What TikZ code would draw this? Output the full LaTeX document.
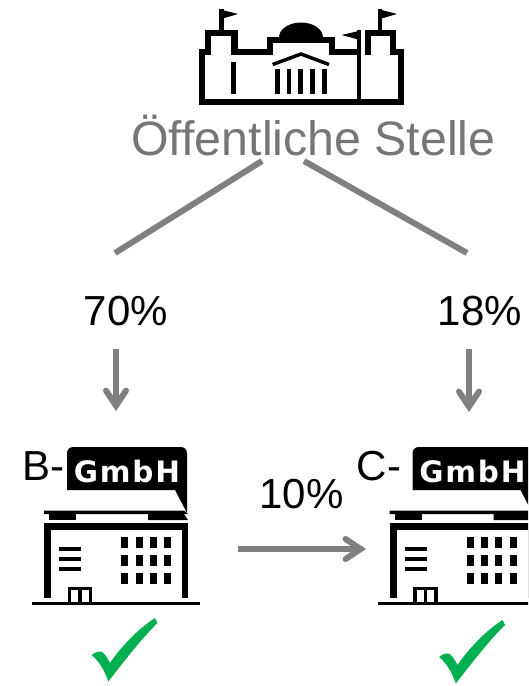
\documentclass[tikz,border=0pt]{standalone}
\usepackage{fontspec}
\usepackage{tikz}
\usetikzlibrary{arrows.meta}
\setmainfont{Liberation Sans}
\newfontfamily\tagfont[LetterSpace=6]{DejaVu Sans}

\tikzset{
  every node/.style={inner sep=0pt},
  grayline/.style={draw=linegray, line width=6pt},
  grayarrow/.style={grayline, -{Straight Barb[length=15pt,width=20pt,line cap=round,line join=miter]}},
  bigtext/.style={font=\fontsize{42}{42}\selectfont, text=black},
  tagtext/.style={font=\tagfont\bfseries\fontsize{29.5}{30}\selectfont, text=white},
  gmbhhaus/.pic={
    % speech tag above the roof
    \fill [rounded corners=6pt] (67,490) -- (67,447) -- (187,447) -- (187,475) [sharp corners] -- (187,513) -- (175,490) -- cycle;
    % roof
    \fill (44,510.5) -- (184,510.5) -- (188,514) -- (44,514) -- cycle;
    \fill (49,514) rectangle (76,520);
    \fill (148,514) -- (184,514) -- (188,520) -- (148,520) -- cycle;
    \fill (44,523) rectangle (188,530);
    % walls and ground
    \fill (44,530) rectangle (51,598);
    \fill (182,530) rectangle (188,598);
    \fill (32,602) rectangle (200,605);
    % door
    \draw [line width=3.5pt] (69.5,602) -- (69.5,588.5) -- (90.5,588.5) -- (90.5,602);
    \draw [line width=3.5pt] (80,588.5) -- (80,602);
    % label lines
    \foreach \y in {549,559,569}
      \draw [line width=3.5pt] (59,\y) -- (81,\y);
    % windows
    \foreach \x in {121,135.5,149.5,164}
      \foreach \y in {537,555,573}
        \fill (\x,\y) rectangle (\x+7,\y+11);
  },
  okcheck/.pic={
    \fill [checkgreen] (91.7,655) .. controls (95,652) and (99,651) .. (101.7,651.7) .. controls (105,654) and (108,659) .. (110,663)
      .. controls (118,651) and (135,631) .. (155,618) -- (157.5,623)
      .. controls (143,637) and (125,660) .. (108.3,681.5) .. controls (106,675) and (102,664) .. (91.7,655) -- cycle;
  }
}
\definecolor{linegray}{HTML}{808080}
\definecolor{textgray}{HTML}{767676}
\definecolor{checkgreen}{HTML}{00B050}

\begin{document}
\begin{tikzpicture}[x=1pt,y=-1pt]
\clip (0,0) rectangle (528,686);
% public building
\draw [line width=6.5pt] (202,102) -- (202,52) -- (208,52) -- (208,33) -- (234.5,33) -- (234.5,52) -- (270,52) -- (270,40) -- (332,40) -- (332,52) -- (359,52);
\draw [line width=6.5pt] (368,55) -- (368,33) -- (393,33) -- (393,52) -- (401,52) -- (401,102);
\fill (199,98.5) rectangle (404,105);
\draw [line width=4.5pt] (359,30) -- (359,100);
\fill (279,37.5) arc [start angle=180, end angle=360, x radius=22, y radius=15] -- cycle;
\draw [line width=4.5pt] (221.5,9) -- (221.5,33);
\fill (219.5,9.3) -- (238,14) -- (219.5,19.5) -- cycle;
\draw [line width=4.5pt] (380,9) -- (380,33);
\fill (378,9) -- (397,14) -- (378,19.5) -- cycle;
\fill (360,30.7) -- (341.7,35) -- (360,40) -- cycle;
\draw [line width=3.5pt] (272.7,64.5) -- (301,54) -- (329,64.5);
\foreach \x in {277.5,289,300.7,312.3,324.3}
  \draw [line width=4.5pt] (\x,69) -- (\x,94);
\draw [line width=4.5pt] (233.3,61.7) -- (233.3,94);

\node (stelle) [text=textgray, font=\fontsize{48.3}{48}\selectfont, anchor=base] at (313.5,155) {Öffentliche Stelle};
\node (anteilb) [bigtext, anchor=base] at (126,325) {70\%};
\node (anteilc) [bigtext, anchor=base] at (480,325) {18\%};
\node (anteilbc) [bigtext, anchor=base] at (301.5,508) {10\%};
\node (nameb) [bigtext, anchor=base] at (43,480) {B-};
\node (namec) [bigtext, anchor=base] at (379,480) {C-};

\pic {gmbhhaus};
\pic at (345.5,0) {gmbhhaus};
\node (tagb) [tagtext, anchor=base] at (127,482) {GmbH};
\node (tagc) [tagtext, anchor=base] at (472.5,482) {GmbH};

\pic {okcheck};
\pic at (347.5,2) {okcheck};

\coordinate (stelleb) at (262,161);
\coordinate (stellec) at (304,161);
\coordinate (linkb) at (115,253);
\coordinate (linkc) at (467,253);
\coordinate (arrowb) at (116,349);
\coordinate (hausb) at (116,411);
\coordinate (arrowc) at (469,349);
\coordinate (hausc) at (469,412);
\coordinate (arrowbc) at (238,549);
\coordinate (hausbc) at (366,549);
\draw [grayline] (stelleb) -- (linkb);
\draw [grayline] (stellec) -- (linkc);
\draw [grayarrow] (arrowb) -- (hausb);
\draw [grayarrow] (arrowc) -- (hausc);
\draw [grayarrow] (arrowbc) -- (hausbc);
\end{tikzpicture}
\end{document}
